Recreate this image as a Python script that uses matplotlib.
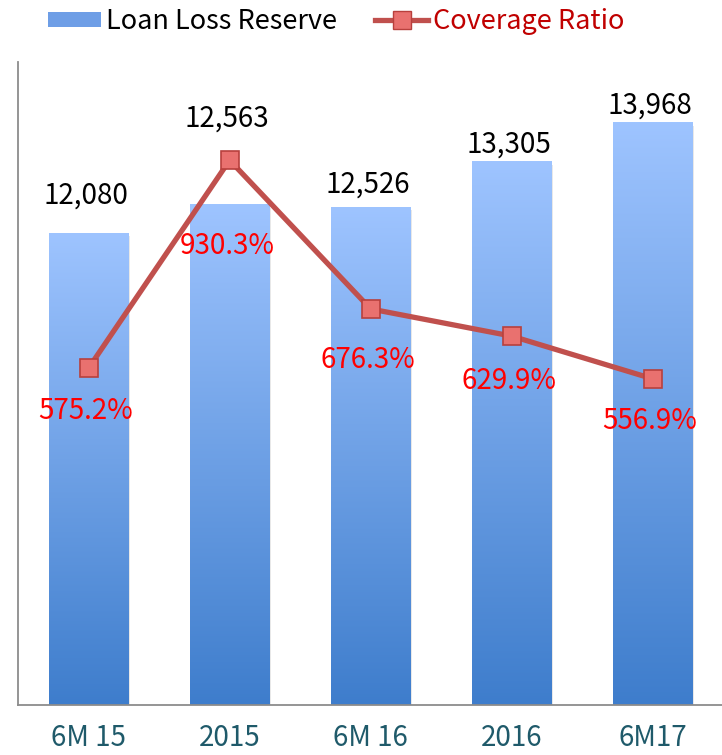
import matplotlib
matplotlib.use("Agg")
import matplotlib.pyplot as plt
import numpy as np
from matplotlib.patches import Patch
from matplotlib.lines import Line2D

plt.rcParams['font.family'] = ['Noto Sans CJK TC', 'DejaVu Sans']

categories = ["6M 15", "2015", "6M 16", "2016", "6M17"]
reserve = [12080, 12563, 12526, 13305, 13968]
coverage = [575.2, 930.3, 676.3, 629.9, 556.9]
reserve_labels = ["12,080", "12,563", "12,526", "13,305", "13,968"]
coverage_labels = ["575.2%", "930.3%", "676.3%", "629.9%", "556.9%"]

# label offsets in points (layout only)
reserve_off = [27, 62, 16, 12, 12]
coverage_off = [-31, -62, -37, -32, -30]

fig = plt.figure(figsize=(7.22, 7.55), dpi=100)
ax = fig.add_axes([18/722, 1-705/755, (722-18)/722, (705-62)/755])

x = np.arange(len(categories))
bars = ax.bar(x, reserve, width=0.566, bottom=0, color='none', edgecolor='none', zorder=2)
ax.set_ylim(4000, 15000)
ax.set_xlim(-0.5, 4.49)

top_c = np.array([158, 196, 255]) / 255
bot_c = np.array([62, 125, 204]) / 255
grad = np.linspace(0, 1, 256)[:, None]
cols = (top_c[None, :] * (1 - grad) + bot_c[None, :] * grad)[:, None, :]
for b in bars:
    x0 = b.get_x(); w = b.get_width(); h = b.get_height()
    ax.bar(x0 + w/2 + 0.012, h, width=w, bottom=-60, color='#d9d9d9', zorder=1.5, alpha=0.6)
    im = ax.imshow(cols, extent=(x0, x0 + w, 4000, h), aspect='auto', zorder=2.1,
                   interpolation='bilinear')
    im.set_clip_path(b)

for xi, v, lab, off in zip(x, reserve, reserve_labels, reserve_off):
    ax.annotate(lab, (xi, v), xytext=(-2, off), textcoords='offset points',
                ha='center', va='center', fontsize=20, color='black', zorder=5)

for s in ['top', 'right']:
    ax.spines[s].set_visible(False)
for s in ['left', 'bottom']:
    ax.spines[s].set_color('#8c8c8c')
    ax.spines[s].set_linewidth(1.3)
ax.set_yticks([])
ax.set_xticks(x)
ax.set_xticklabels(categories, fontsize=20, color='#1f5a6a', fontweight='medium')
ax.tick_params(axis='x', length=0, pad=13)

ax2 = ax.twinx()
ax2.set_position(ax.get_position())
ax2.set_ylim(0, 1098)
ax2.set_yticks([])
for s in ax2.spines.values():
    s.set_visible(False)
ax2.plot(x, coverage, color='#c0504d', lw=3.8, marker='s', markersize=13,
         markerfacecolor='#e9716f', markeredgecolor='#b8403d', markeredgewidth=1.2, zorder=4)
for xi, v, lab, off in zip(x, coverage, coverage_labels, coverage_off):
    ax2.annotate(lab, (xi, v), xytext=(-2, off), textcoords='offset points',
                 ha='center', va='center', fontsize=20, color='#ff0000', zorder=6)

handles = [Patch(facecolor='#6e9ee6', edgecolor='none'),
           Line2D([0], [0], color='#c0504d', lw=3.8, marker='s', markersize=13,
                  markerfacecolor='#e9716f', markeredgecolor='#b8403d')]
leg = fig.legend(handles, ['Loan Loss Reserve', 'Coverage Ratio'], loc='upper left',
                 bbox_to_anchor=(48/722, 1 - 8/755), ncol=2, frameon=False, fontsize=19.5,
                 handlelength=1.95, handleheight=0.5, columnspacing=1.4, handletextpad=0.2,
                 borderaxespad=0, borderpad=0)
leg.get_texts()[1].set_color('#c00000')

fig.savefig('out.png', dpi=100)
